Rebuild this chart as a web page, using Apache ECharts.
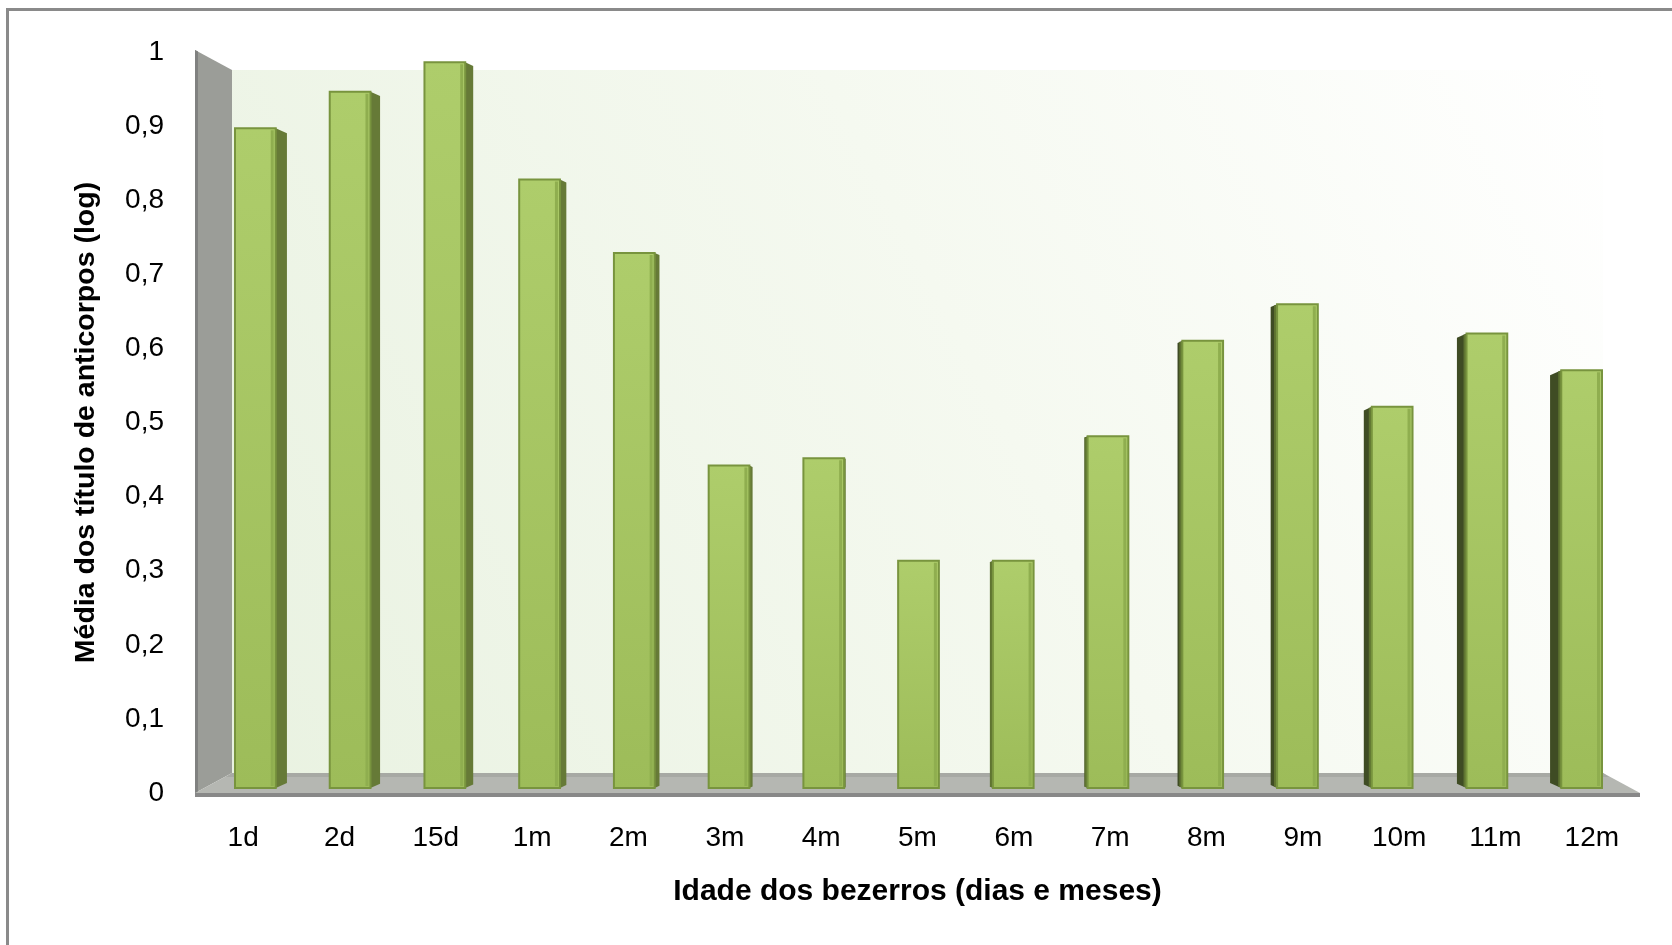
<!DOCTYPE html>
<html>
<head>
<meta charset="utf-8">
<script src="https://cdn.jsdelivr.net/npm/echarts@6/dist/echarts.min.js"></script>
<style>
html,body{margin:0;padding:0;background:#fff;}
#chart{width:1672px;height:945px;}
</style>
</head>
<body>
<div id="chart"></div>
<script>
// ---- data ----
const categories = ['1d','2d','15d','1m','2m','3m','4m','5m','6m','7m','8m','9m','10m','11m','12m'];
const values = [0.90, 0.95, 0.99, 0.83, 0.73, 0.44, 0.45, 0.31, 0.31, 0.48, 0.61, 0.66, 0.52, 0.62, 0.57];
const yMin = 0, yMax = 1, yStep = 0.1;
const xTitle = 'Idade dos bezerros (dias e meses)';
const yTitle = 'Média dos título de anticorpos (log)';

const FONT = "'Liberation Sans', Arial, sans-serif";
const chart = echarts.init(document.getElementById('chart'), null, {renderer: 'canvas'});

function fmtTick(v) {
  if (Math.abs(v) < 1e-9) return '0';
  if (Math.abs(v - 1) < 1e-9) return '1';
  return v.toFixed(1).replace('.', ',');
}

// Decorative 3D frame (side wall, back wall, floor) derived from the grid rect
function renderWalls(params, api) {
  const r = params.coordSys;
  const x0 = r.x, x1 = r.x + r.width, yT = r.y, y0 = r.y + r.height;
  const dx = 37, dyB = 20, dyT = 18;
  const bx0 = x0 + dx, bx1 = x1 - dx, byT = yT + dyT, byB = y0 - dyB;
  return {
    type: 'group',
    children: [
      { type: 'rect', shape: {x: bx0, y: byT, width: bx1 - bx0, height: byB - byT},
        style: {fill: new echarts.graphic.LinearGradient(0, 1, 1, 0, [
          {offset: 0, color: '#e9f2e1'}, {offset: 0.55, color: '#f5f9f0'}, {offset: 1, color: '#ffffff'}])} },
      { type: 'polygon', shape: {points: [[x0, yT - 2], [bx0, byT], [bx0, byB], [x0, y0]]},
        style: {fill: '#9b9d98'} },
      { type: 'polygon', shape: {points: [[x0, yT - 2], [x0 + 3, yT - 0.5], [x0 + 3, y0], [x0, y0]]},
        style: {fill: '#808180'} },
      { type: 'polygon', shape: {points: [[bx0, byB], [bx1, byB], [x1, y0], [x0, y0]]},
        style: {fill: '#b5b7b2'} },
      { type: 'polygon', shape: {points: [[bx0, byB], [bx1, byB], [bx1 + 6, byB + 4], [bx0 - 6, byB + 4]]},
        style: {fill: '#a7a9a4'} },
      { type: 'rect', shape: {x: x0, y: y0, width: x1 - x0, height: 4},
        style: {fill: '#888888'} }
    ]
  };
}

function renderBar(params, api) {
  const i = api.value(0);
  const v = api.value(1);
  const top = api.coord([i, v]);
  const base = api.coord([i, 0]);
  const band = api.size([1, 0])[0];
  const fw = band * 0.43;
  const x0 = top[0] - fw / 2, x1 = top[0] + fw / 2;
  const yt = top[1], yb = base[1];
  const mid = (categories.length - 1) / 2;
  const s = (mid - i) * 1.6;
  const a = Math.abs(s) * 0.45;
  const children = [];
  if (s > 0.5) {
    children.push({ type: 'polygon',
      shape: {points: [[x1, yt], [x1 + s, yt + a], [x1 + s, yb - a], [x1, yb]]},
      style: {fill: '#667a37'} });
  } else if (s < -0.5) {
    children.push({ type: 'polygon',
      shape: {points: [[x0, yt], [x0 + s, yt + a], [x0 + s, yb - a], [x0, yb]]},
      style: {fill: '#3f4c24'} });
    children.push({ type: 'rect',
      shape: {x: x0 - 3, y: yt + 1, width: 3, height: yb - yt - 2},
      style: {fill: '#5f7431'} });
  }
  children.push({ type: 'rect',
    shape: {x: x0, y: yt, width: fw, height: yb - yt},
    style: {
      fill: new echarts.graphic.LinearGradient(0, 0, 0, 1, [
        {offset: 0, color: '#aecd6b'}, {offset: 1, color: '#9dbc59'}]),
      stroke: '#78943e', lineWidth: 2
    } });
  children.push({ type: 'rect',
    shape: {x: x1 - 5, y: yt + 2, width: 3, height: yb - yt - 4},
    style: {fill: '#8fae4f'} });
  return {type: 'group', children: children};
}

const option = {
  backgroundColor: '#ffffff',
  animation: false,
  textStyle: {fontFamily: FONT},
  graphic: [
    {type: 'rect', shape: {x: 6, y: 8, width: 1666, height: 3}, style: {fill: '#8a8a8a'}, silent: true},
    {type: 'rect', shape: {x: 6, y: 8, width: 3, height: 937}, style: {fill: '#8a8a8a'}, silent: true}
  ],
  grid: [
    {left: 195, right: 32, top: 52, bottom: 152},
    {left: 208, right: 43, top: 55, bottom: 157}
  ],
  xAxis: [
    {
      type: 'category', gridIndex: 0, data: categories,
      axisLine: {show: false}, axisTick: {show: false},
      axisLabel: {color: '#000', fontSize: 28, fontFamily: FONT, margin: 31, interval: 0},
      name: xTitle, nameLocation: 'middle', nameGap: 84,
      nameTextStyle: {color: '#000', fontSize: 30, fontWeight: 'bold', fontFamily: FONT}
    },
    {
      type: 'category', gridIndex: 1, data: categories, show: false
    }
  ],
  yAxis: [
    {
      type: 'value', gridIndex: 0, min: yMin, max: yMax, interval: yStep,
      axisLine: {show: false}, axisTick: {show: false}, splitLine: {show: false},
      axisLabel: {color: '#000', fontSize: 28, fontFamily: FONT, margin: 31, formatter: fmtTick},
      name: yTitle, nameLocation: 'middle', nameGap: 94, nameRotate: 90,
      nameTextStyle: {color: '#000', fontSize: 28.5, fontWeight: 'bold', fontFamily: FONT}
    },
    {
      type: 'value', gridIndex: 1, min: yMin, max: yMax, show: false
    }
  ],
  series: [
    {
      type: 'custom', name: 'frame', xAxisIndex: 0, yAxisIndex: 0,
      renderItem: renderWalls, data: [[0, 0]], silent: true, clip: false, z: 1
    },
    {
      type: 'custom', name: 'Média', xAxisIndex: 1, yAxisIndex: 1,
      renderItem: renderBar,
      encode: {x: 0, y: 1},
      data: values.map((v, i) => [i, v]),
      clip: false, z: 5
    }
  ]
};
chart.setOption(option);
</script>
</body>
</html>
